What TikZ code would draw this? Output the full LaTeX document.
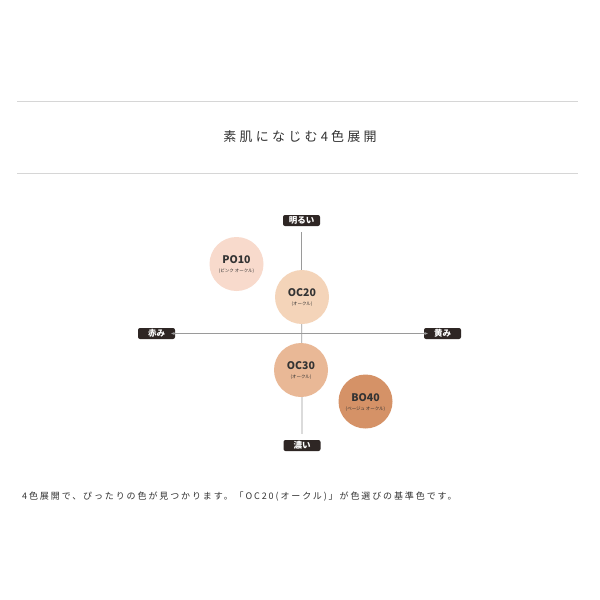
\documentclass[tikz,border=0pt]{standalone}
\usepackage{fontspec}
\setmainfont{Noto Sans CJK JP}
\newfontfamily\jp{Noto Sans CJK JP}
\usetikzlibrary{arrows.meta}
\definecolor{rule}{HTML}{D6D6D6}
\definecolor{axis}{HTML}{9A9A9A}
\definecolor{tagbg}{HTML}{2E2624}
\definecolor{cPO}{HTML}{F8DACC}
\definecolor{cOC2}{HTML}{F4D4B9}
\definecolor{cOC3}{HTML}{E9B896}
\definecolor{cBO}{HTML}{D59267}
\definecolor{txt}{HTML}{333333}
\tikzset{
  tag/.style={fill=tagbg, rounded corners=2pt, text=white, font=\jp\bfseries\fontsize{8.5}{8.5}\selectfont, minimum width=37pt, minimum height=11pt, inner sep=0pt},
  swatch/.style={circle, minimum size=54pt, inner sep=0pt},
  code/.style={font=\jp\bfseries\fontsize{10.5}{10.5}\selectfont, text=txt, inner sep=0pt},
  sub/.style={font=\jp\fontsize{4.5}{4.5}\selectfont, text=txt, inner sep=0pt},
  axisline/.style={draw=axis, line width=0.8pt},
  ruleline/.style={draw=rule, line width=1pt}
}
\begin{document}
\begin{tikzpicture}[x=1pt,y=-1pt]
\useasboundingbox[fill=white] (0,0) rectangle (600,600);
% rules
\coordinate (r1a) at (17,101); \coordinate (r1b) at (578,101);
\coordinate (r2a) at (17,173); \coordinate (r2b) at (578,173);
\draw[ruleline] (r1a) -- (r1b);
\draw[ruleline] (r2a) -- (r2b);
\node[font=\jp\fontsize{13}{13}\selectfont\addfontfeature{LetterSpace=25}, text=txt, inner sep=0pt] (title) at (300,137) {素肌になじむ4色展開};
% axis labels
\node[tag] (top) at (301.5,220.5) {明るい};
\node[tag] (bot) at (302,445.5) {濃い};
\node[tag] (left) at (156.5,333.5) {赤み};
\node[tag] (right) at (442.5,333.5) {黄み};
\coordinate (ctr) at (302,333.5);
\draw[axisline] ([yshift=-6pt]top.south) -- ([yshift=6pt]bot.north);
\draw[axisline, -{Stealth[length=3.5pt,width=3pt]}] (ctr) -- ([xshift=-4pt]left.east);
\draw[axisline, -{Stealth[length=3.5pt,width=3pt]}] (ctr) -- ([xshift=4pt]right.west);
% swatches
\node[swatch, fill=cPO] (po) at (236.5,264) {};
\node[swatch, fill=cOC2] (oc2) at (302,297) {};
\node[swatch, fill=cOC3] (oc3) at (301,370) {};
\node[swatch, fill=cBO] (bo) at (365.5,401.5) {};
\node[code] (poT) at (236.5,260) {PO10};
\node[sub] (poS) at (236.5,271) {(ピンク オークル)};
\node[code] (oc2T) at (302,293) {OC20};
\node[sub] (oc2S) at (302,304) {(オークル)};
\node[code] (oc3T) at (301,366) {OC30};
\node[sub] (oc3S) at (301,377) {(オークル)};
\node[code] (boT) at (365.5,398) {BO40};
\node[sub] (boS) at (365.5,409) {(ベージュ オークル)};
% bottom text
\node[anchor=west, font=\jp\fontsize{9}{9}\selectfont\addfontfeature{LetterSpace=21}, text=txt, inner sep=0pt] (foot) at (22,497) {4色展開で、ぴったりの色が見つかります。「OC20(オークル)」が色選びの基準色です。};
\end{tikzpicture}
\end{document}
